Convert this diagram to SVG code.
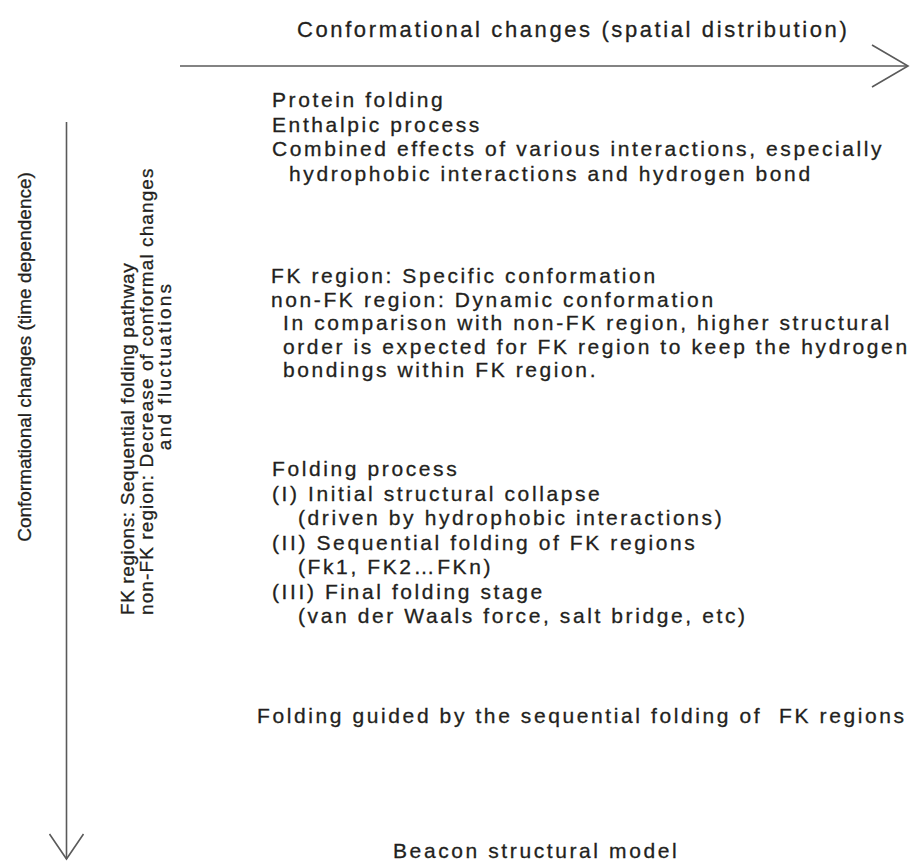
<svg xmlns="http://www.w3.org/2000/svg" width="912" height="861" viewBox="0 0 912 861">
  <style>
    .t { font-family: "Liberation Sans", Arial, sans-serif; font-size: 21px; letter-spacing: 2.6px; fill: #231f20; stroke: #231f20; stroke-width: 0.3px; }
    .title { font-size: 22px; }
    .r { font-family: "Liberation Sans", Arial, sans-serif; font-size: 19px; fill: #231f20; stroke: #231f20; stroke-width: 0.3px; }
    .ax { stroke: #5a5a5a; stroke-width: 1.6; fill: none; }
  </style>
  <defs>
    <marker id="headH" markerUnits="userSpaceOnUse" orient="auto" refX="0" refY="0" overflow="visible">
      <path d="M-36,-21 L0,0 L-36,21" class="ax"/>
    </marker>
    <marker id="headV" markerUnits="userSpaceOnUse" orient="auto" refX="0" refY="0" overflow="visible">
      <path d="M-25,-17 L0,0 L-25,17" class="ax"/>
    </marker>
  </defs>
  <rect width="912" height="861" fill="#ffffff"/>

  <g id="connectors">
    <line class="ax" x1="180" y1="66" x2="908" y2="66" marker-end="url(#headH)"/>
    <line class="ax" x1="66.5" y1="122" x2="66.5" y2="859" marker-end="url(#headV)"/>
  </g>

  <g id="axis-spatial">
    <text class="t title" x="297" y="37">Conformational changes (spatial distribution)</text>
  </g>

  <g id="axis-time">
    <text class="r" text-anchor="middle" transform="translate(31,357) rotate(-90)" font-size="18.3">Conformational changes (time dependence)</text>
  </g>

  <g id="fk-pathway">
    <text class="r" transform="translate(134,615) rotate(-90)" letter-spacing="0.6">FK regions: Sequential folding pathway</text>
    <text class="r" transform="translate(153,615) rotate(-90)" letter-spacing="1.1">non-FK region: Decrease of conformal changes</text>
    <text class="r" text-anchor="middle" transform="translate(171,366) rotate(-90)" letter-spacing="2.2">and fluctuations</text>
  </g>

  <g id="protein-folding">
    <text class="t" x="272" y="107">Protein folding</text>
    <text class="t" x="272" y="131.6">Enthalpic process</text>
    <text class="t" x="272" y="156">Combined effects of various interactions, especially</text>
    <text class="t" x="289" y="180.5">hydrophobic interactions and hydrogen bond</text>
  </g>

  <g id="fk-region">
    <text class="t" x="271" y="283">FK region: Specific conformation</text>
    <text class="t" x="271" y="306.5">non-FK region: Dynamic conformation</text>
    <text class="t" x="283" y="330">In comparison with non-FK region, higher structural</text>
    <text class="t" x="283" y="353.5">order is expected for FK region to keep the hydrogen</text>
    <text class="t" x="283" y="377">bondings within FK region.</text>
  </g>

  <g id="folding-process">
    <text class="t" x="272" y="476">Folding process</text>
    <text class="t" x="272" y="500.5">(I) Initial structural collapse</text>
    <text class="t" x="298" y="525">(driven by hydrophobic interactions)</text>
    <text class="t" x="272" y="549.5">(II) Sequential folding of FK regions</text>
    <text class="t" x="298" y="574">(Fk1, FK2…FKn)</text>
    <text class="t" x="272" y="598.5">(III) Final folding stage</text>
    <text class="t" x="298" y="623">(van der Waals force, salt bridge, etc)</text>
  </g>

  <g id="guided">
    <text class="t" x="257" y="723" xml:space="preserve">Folding guided by the sequential folding of  FK regions</text>
  </g>

  <g id="beacon-model">
    <text class="t" x="393" y="858">Beacon structural model</text>
  </g>
</svg>
